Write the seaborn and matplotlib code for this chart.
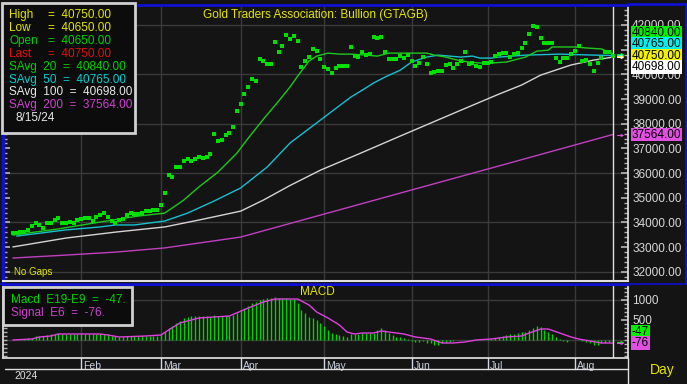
import numpy as np
import matplotlib
matplotlib.use("Agg")
import matplotlib.pyplot as plt
from matplotlib.patches import Rectangle
from matplotlib.lines import Line2D
from matplotlib.ticker import MultipleLocator, FixedLocator
import seaborn as sns

# --- Données (un point par séance, 2/1/24 -> 15/8/24) ---
prices = [33570, 33570, 33610, 33610, 33700, 33860, 33980, 33900, 33780, 33980,
          33980, 34100, 34180, 33980, 33980, 34020, 33980, 34100, 34140, 34180,
          34180, 34060, 34220, 34300, 34380, 34220, 34060, 33980, 34100, 34140,
          34300, 34380, 34340, 34340, 34380, 34460, 34460, 34500, 34500, 34710,
          35190, 35920, 35840, 36250, 36250, 36490, 36570, 36490, 36570, 36650,
          36610, 36650, 36770, 37580, 37300, 37340, 37540, 37620, 37870, 38510,
          38800, 39200, 39490, 39810, 39730, 40620, 40540, 40420, 40420, 41310,
          40900, 41150, 41590, 41430, 41550, 41350, 40300, 40540, 40700, 41030,
          40940, 40620, 40300, 40220, 40050, 40260, 40340, 40340, 40340, 41110,
          40740, 40700, 40900, 40780, 40820, 41510, 41470, 41510, 40900, 40620,
          40620, 40620, 40740, 40660, 40780, 40540, 40340, 40460, 40700, 40420,
          40050, 40090, 40130, 40130, 40380, 40420, 40260, 40420, 40540, 40900,
          40420, 40460, 40340, 40300, 40460, 40460, 40500, 40740, 40820, 40860,
          40860, 40700, 40820, 40860, 41070, 41270, 41630, 41960, 41920, 41470,
          41270, 41270, 41270, 40660, 40500, 40660, 40660, 40820, 40940, 41150,
          40540, 40580, 40420, 40130, 40460, 40660, 40900, 40900, 40750]
days = np.arange(len(prices))

# moyennes mobiles (relevées à intervalles)
sma20_idx = [0, 12, 23, 33, 40, 45, 49, 54, 59, 62, 66, 70, 73, 75, 78, 80, 83, 86, 89, 93,
             96, 99, 102, 105, 109, 111, 114, 117, 120, 123, 126, 130, 135, 138, 141, 142,
             148, 151, 155, 158]
sma20_val = [33490, 33740, 34020, 34260, 34380, 34910, 35440, 36040, 36810, 37420, 38190,
             38920, 39490, 39930, 40540, 40740, 40860, 40820, 40820, 40780, 40740, 40860,
             40860, 40860, 40860, 40780, 40700, 40580, 40500, 40460, 40460, 40500, 40700,
             40940, 40980, 41110, 41110, 41070, 41030, 40840]
sma50_idx = [1, 14, 23, 27, 32, 40, 46, 53, 60, 67, 73, 81, 89, 92, 95, 98, 102, 105, 109,
             112, 118, 121, 123, 126, 128, 135, 144, 153, 158]
sma50_val = [33450, 33700, 33820, 33900, 33900, 34060, 34380, 34870, 35400, 36250, 37220,
             38150, 39080, 39360, 39650, 39890, 40170, 40500, 40700, 40780, 40700, 40740,
             40660, 40660, 40700, 40780, 40820, 40780, 40765]
sma100_idx = [0, 14, 27, 40, 49, 60, 66, 73, 81, 91, 102, 118, 128, 134, 139, 143, 147, 153, 158]
sma100_val = [33010, 33370, 33610, 33820, 34100, 34460, 34910, 35500, 36120, 36770, 37500,
              38550, 39200, 39570, 39970, 40175, 40380, 40580, 40698]
sma200_idx = [0, 14, 27, 40, 60, 81, 102, 128, 158]
sma200_val = [32560, 32680, 32800, 32970, 33410, 34300, 35190, 36290, 37564]

macd = [0, 0, 10, 20, 40, 60, 90, 110, 100, 120,
        140, 160, 170, 160, 150, 150, 140, 140, 140, 150,
        150, 140, 150, 150, 160, 140, 110, 90, 80, 80,
        90, 100, 100, 100, 110, 110, 110, 110, 110, 140,
        200, 300, 350, 420, 480, 540, 580, 600, 600, 600,
        600, 590, 580, 620, 600, 590, 590, 590, 620, 680,
        740, 800, 860, 920, 950, 1000, 1020, 1040, 1050, 1080,
        1060, 1050, 1040, 1030, 1020, 925, 750, 675, 575, 550,
        500, 425, 350, 250, 175, 150, 125, 100, 75, 150,
        150, 150, 170, 170, 170, 175, 250, 300, 250, 175,
        125, 75, 75, 50, 25, -25, -50, -50, -30, -70,
        -80, -120, -125, -80, -70, -50, -30, -10, 0, 0,
        0, 0, 0, 0, 10, 15, 25, 50, 75, 100,
        125, 150, 160, 175, 190, 200, 250, 300, 350, 325,
        250, 200, 150, 75, 25, -25, -50, 0, 0, -10,
        -25, -50, -75, -125, -125, -75, -75, -50, -47]
sig_idx = [0, 5, 7, 10, 12, 18, 23, 25, 28, 35, 39, 41, 44, 47, 49, 57, 62, 66, 69, 75,
           78, 80, 83, 86, 88, 90, 92, 95, 97, 99, 103, 106, 110, 113, 116, 119, 122, 126,
           130, 134, 136, 139, 141, 144, 147, 149, 152, 155, 157, 158]
sig_val = [0, 25, 75, 100, 150, 150, 150, 125, 75, 100, 125, 250, 425, 500, 550, 600, 800,
           950, 1025, 1025, 875, 700, 550, 375, 200, 150, 175, 175, 225, 200, 150, 75, 25,
           -75, -75, -50, 0, 25, 75, 100, 175, 275, 275, 175, 75, 25, -25, -75, -75, -76]

month_names = ["Feb", "Mar", "Apr", "May", "Jun", "Jul", "Aug"]
month_start = [18, 39, 60, 82, 105, 125, 148]

stat_names = ["High", "Low", "Open", "Last"]
stat_vals = [40750.00, 40650.00, 40650.00, 40750.00]
last_date = "8/15/24"

# graduations de prix masquées par les cartouches de valeurs
hidden_ticks = [41000]

# --- Couleurs ---
BG = "#141414"
GRID = "#3a3a3a"
YEL = "#e6e600"
GREEN = "#00e000"
C20, C50, C100, C200 = "#1ec81e", "#18c0d0", "#d4d4d4", "#c040c0"
SIG = "#e040e0"
BLUE = "#1010d0"

W, H = 687, 384
sns.set_theme(style="dark", rc={"axes.facecolor": BG, "figure.facecolor": BG})
plt.rcParams["font.family"] = ["Liberation Sans", "DejaVu Sans"]

fig = plt.figure(figsize=(W / 100, H / 100), dpi=100)


def fx(x):
    return x / W


def fy(y):
    return 1 - y / H


ax = fig.add_axes([fx(3), fy(281), fx(625), 276 / H])
am = fig.add_axes([fx(3), fy(358), fx(625), 73 / H])

# --- Panneau principal ---
for y in range(32000, 42001, 2000):
    ax.axhline(y, color=GRID, lw=1, zorder=0)
for m in month_start:
    ax.axvline(m, color=GRID, lw=1, zorder=0)
    am.axvline(m, color=GRID, lw=1, zorder=0)

sns.lineplot(x=sma200_idx, y=sma200_val, ax=ax, color=C200, lw=1)
sns.lineplot(x=sma100_idx, y=sma100_val, ax=ax, color=C100, lw=1)
sns.lineplot(x=sma50_idx, y=sma50_val, ax=ax, color=C50, lw=1)
sns.lineplot(x=sma20_idx, y=sma20_val, ax=ax, color=C20, lw=1)
sns.scatterplot(x=days, y=prices, ax=ax, marker="s", s=10, color=GREEN, linewidth=0, zorder=4)
ax.axvline(days[-1], color="#e0e0e0", lw=1)

ax.set_xlim(-2.6, 162)
ax.set_ylim(31630, 42810)
ax.set_xticks([])
ax.set_xlabel("")
ax.set_ylabel("")
ax.yaxis.set_major_locator(FixedLocator(list(range(32000, 42001, 1000))))
ax.yaxis.set_minor_locator(MultipleLocator(200))
ax.yaxis.set_major_formatter(matplotlib.ticker.FuncFormatter(
    lambda v, p: "" if v in hidden_ticks else f"{v:.2f}"))
ax.tick_params(axis="y", which="both", direction="in", left=True, right=True,
               labelleft=False, labelright=True, color="#b0b0b0",
               labelcolor="#d8d8d8", labelsize=8.5, pad=3)
ax.tick_params(axis="y", which="major", length=5)
ax.tick_params(axis="y", which="minor", length=3)
ax.spines["top"].set_color(BLUE)
ax.spines["top"].set_linewidth(2)
ax.spines["left"].set_color(BLUE)
ax.spines["left"].set_linewidth(2.5)
ax.spines["right"].set_color("#e0e0e0")
ax.spines["bottom"].set_color("#e0e0e0")
ax.spines["bottom"].set_linewidth(1.5)

ax.text(0.5, 0.985, "Gold Traders Association: Bullion (GTAGB)", transform=ax.transAxes,
        ha="center", va="top", color=YEL, fontsize=8.5)
ax.text(0.017, 0.015, "No Gaps", transform=ax.transAxes, ha="left", va="bottom",
        color=YEL, fontsize=7)


def stacked_labels(axis, items, anchor, gap_px, fmt):
    # items: (valeur, couleur) ; le label "anchor" reste à sa place, les autres s'écartent
    fig.canvas.draw()
    pix = [axis.transData.transform((0, v))[1] for v, _ in items]
    order = sorted(range(len(items)), key=lambda k: -items[k][0])
    pos = {k: pix[k] for k in order}
    a = order.index(anchor)
    for j in range(a - 1, -1, -1):
        k, prev = order[j], order[j + 1]
        pos[k] = max(pix[k], pos[prev] + gap_px)
    for j in range(a + 1, len(order)):
        k, prev = order[j], order[j - 1]
        pos[k] = min(pix[k], pos[prev] - gap_px)
    for k, (v, col) in enumerate(items):
        dy = (pos[k] - pix[k]) * 72 / 100
        axis.annotate(fmt(v), xy=(1, v), xycoords=axis.get_yaxis_transform(),
                      xytext=(2.5, dy), textcoords="offset points", ha="left", va="center",
                      fontsize=8.5, color="black", zorder=10, annotation_clip=False,
                      bbox=dict(boxstyle="square,pad=0.08", fc=col, ec="none"))
        # petite flèche en bout de courbe
        axis.plot([days[-1] + 1.0, days[-1] + 2.4], [v, v], color=col, lw=0.8, clip_on=False)
        axis.plot([days[-1] + 2.4], [v], marker=">", ms=2.5, color=col, mew=0, clip_on=False)


main_items = [(sma20_val[-1], "#00f000"), (sma50_val[-1], "#00f0f0"),
              (stat_vals[3], "#f0f000"), (sma100_val[-1], "#ffffff"),
              (sma200_val[-1], "#e050e0")]

# --- Panneau MACD ---
am.axhline(1000, color=GRID, lw=1, zorder=0)
am.axhline(0, color=GRID, lw=1, zorder=0)
am.vlines(days, 0, macd, color="#00d400", lw=1)
sns.lineplot(x=sig_idx, y=sig_val, ax=am, color=SIG, lw=1)
am.axvline(days[-1], color="#e0e0e0", lw=1)
am.set_xlim(-2.6, 162)
am.set_ylim(-450, 1375)
am.set_xticks([])
am.set_xlabel("")
am.set_ylabel("")
am.yaxis.set_major_locator(FixedLocator([500, 1000]))
am.yaxis.set_minor_locator(MultipleLocator(100))
am.tick_params(axis="y", which="both", direction="in", left=True, right=True,
               labelleft=False, labelright=True, color="#b0b0b0",
               labelcolor="#d8d8d8", labelsize=8.5, pad=3)
am.tick_params(axis="y", which="major", length=5)
am.tick_params(axis="y", which="minor", length=3)
am.spines["top"].set_color(BLUE)
am.spines["top"].set_linewidth(1.5)
for s in ["left", "right", "bottom"]:
    am.spines[s].set_color("#e0e0e0")
am.text(0.503, 0.985, "MACD", transform=am.transAxes, ha="center", va="top",
        color=YEL, fontsize=8.5)

stacked_labels(ax, main_items, 2, 11.5, lambda v: f"{v:.2f}")
stacked_labels(am, [(macd[-1], "#00f000"), (sig_val[-1], "#e050e0")], 1, 11.5,
               lambda v: f"{v:.0f}")

# axe des dates
xt = am.get_xaxis_transform()
for m, name in zip(month_start, month_names):
    am.plot([m, m], [0, -11 / 73], transform=xt, color="#d0d8e8", lw=1, clip_on=False)
    am.annotate(name, xy=(m, 0), xycoords=xt, xytext=(1.5, -6), textcoords="offset points",
                ha="left", va="center", color="#c8d0e0", fontsize=7.5, annotation_clip=False)

fig.add_artist(Line2D([fx(5), fx(628)], [fy(369), fy(369)], color="#e0e0e0", lw=1))
fig.add_artist(Line2D([fx(628), fx(628)], [0, fy(358)], color="#e0e0e0", lw=1))
fig.add_artist(Line2D([fx(0), fx(687)], [fy(283.5), fy(283.5)], color=BLUE, lw=1.2))
fig.add_artist(Line2D([fx(628), fx(687)], [fy(4), fy(4)], color=BLUE, lw=2))
fig.add_artist(Line2D([fx(686), fx(686)], [fy(283.5), fy(4)], color=BLUE, lw=1.5))
fig.text(fx(14), fy(376), "2024", ha="left", va="center", color="#e0e0e0", fontsize=7.5)
fig.text(fx(662), fy(370), "Day", ha="center", va="center", color=YEL, fontsize=10)

# --- Cartouches de légende ---
fig.add_artist(Rectangle((fx(2), fy(133)), fx(133), 130 / H, transform=fig.transFigure,
                         fc="#0c0c0c", ec="#d0d0d0", lw=2, zorder=5))
stat_cols = [YEL, YEL, "#00d000", "#e01010"]
for i, (n, v, c) in enumerate(zip(stat_names, stat_vals, stat_cols)):
    yy = 15 + i * 12.9
    fig.text(fx(9), fy(yy), n, ha="left", va="center", color=c, fontsize=8.5, zorder=6)
    fig.text(fx(48), fy(yy), f"=  {v:.2f}", ha="left", va="center", color=c, fontsize=8.5, zorder=6)
sma_lines = [("20", sma20_val[-1], "#00d000"), ("50", sma50_val[-1], "#00d0d0"),
             ("100", sma100_val[-1], "#e8e8e8"), ("200", sma200_val[-1], "#d040d0")]
for j, (p, v, c) in enumerate(sma_lines):
    yy = 15 + (j + 4) * 12.9
    fig.text(fx(9), fy(yy), f"SAvg  {p}  =  {v:.2f}", ha="left", va="center", color=c,
             fontsize=8.5, zorder=6)
fig.text(fx(15), fy(118), last_date, ha="left", va="center", color="#e8e8e8", fontsize=8.5, zorder=6)

fig.add_artist(Rectangle((fx(3), fy(325)), fx(129), 38 / H, transform=fig.transFigure,
                         fc="#0c0c0c", ec="#d0d0d0", lw=2, zorder=5))
fig.text(fx(11), fy(300), f"Macd  E19-E9  =  {macd[-1]:.0f}.", ha="left", va="center",
         color="#00d000", fontsize=8.5, zorder=6)
fig.text(fx(11), fy(313), f"Signal  E6  =  {sig_val[-1]:.0f}.", ha="left", va="center",
         color="#d040d0", fontsize=8.5, zorder=6)

fig.savefig("out.png", dpi=100, facecolor=BG)
